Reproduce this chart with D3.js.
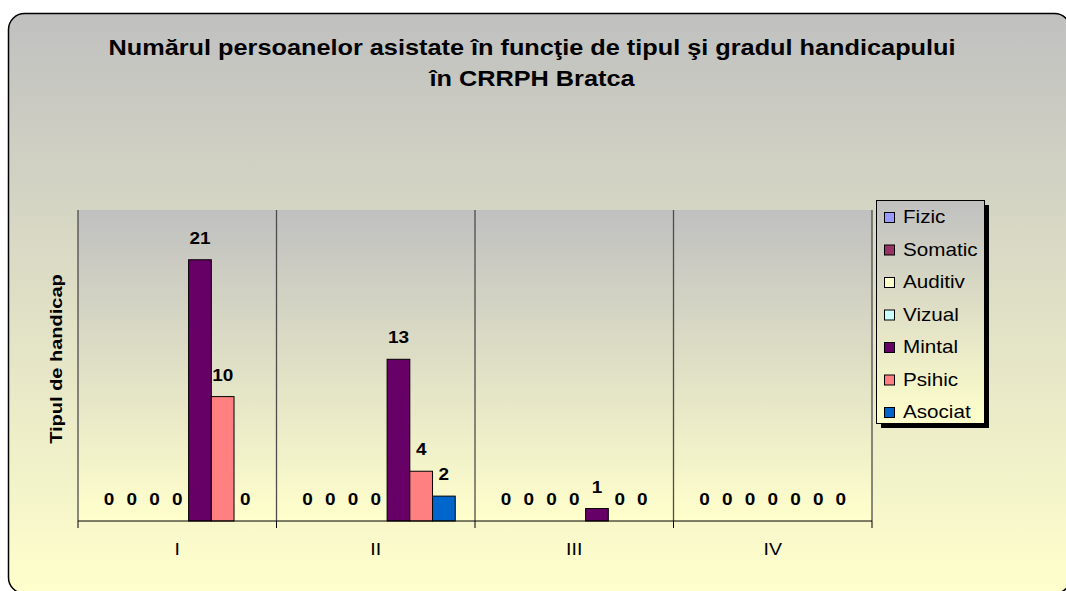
<!DOCTYPE html>
<html>
<head>
<meta charset="utf-8">
<script src="https://cdn.jsdelivr.net/npm/d3@7"></script>
<style>
  html, body { margin: 0; padding: 0; background: #fff; }
  svg { display: block; font-family: Arial, "Liberation Sans", sans-serif; }
</style>
</head>
<body>
<div id="wrapper"></div>
<script>
const categories = ['I', 'II', 'III', 'IV']
const seriesNames = ['Fizic', 'Somatic', 'Auditiv', 'Vizual', 'Mintal', 'Psihic', 'Asociat']
const seriesColors = ['#9999ff', '#993366', '#ffffcc', '#ccffff', '#660066', '#ff8080', '#0066cc']
const fizic = [0, 0, 0, 0]
const somatic = [0, 0, 0, 0]
const auditiv = [0, 0, 0, 0]
const vizual = [0, 0, 0, 0]
const mintal = [21, 13, 1, 0]
const psihic = [10, 4, 0, 0]
const asociat = [0, 2, 0, 0]
const titleLines = ['Numărul persoanelor asistate în funcţie de tipul şi gradul handicapului', 'în CRRPH Bratca']
const yTitle = 'Tipul de handicap'

const seriesValues = [fizic, somatic, auditiv, vizual, mintal, psihic, asociat]
const dataset = []
categories.forEach((c, ci) => {
    seriesNames.forEach((s, si) => {
        dataset.push({ category: c, series: s, value: seriesValues[si][ci] })
    })
})

const dimensions = {
    width: 1066,
    height: 591,
    margin: { top: 210, right: 194, bottom: 70, left: 78 }
}
dimensions.boundedWidth = dimensions.width - dimensions.margin.left - dimensions.margin.right
dimensions.boundedHeight = dimensions.height - dimensions.margin.top - dimensions.margin.bottom

// the original text is drawn a bit wider than Arial, so stretch it along x
const stretch = 1.15

const wrapper = d3.select('#wrapper')
    .append('svg')
    .attr('width', dimensions.width)
    .attr('height', dimensions.height)

const defs = wrapper.append('defs')
const grad = (id) => {
    const g = defs.append('linearGradient').attr('id', id)
        .attr('x1', 0).attr('y1', 0).attr('x2', 0).attr('y2', 1)
    g.append('stop').attr('offset', '0%').attr('stop-color', '#c0c0c0')
    g.append('stop').attr('offset', '100%').attr('stop-color', '#ffffcc')
}
grad('bgGrad')
grad('plotGrad')
grad('legendGrad')

// chart area
wrapper.append('rect')
    .attr('x', 8.5).attr('y', 13.5)
    .attr('width', 1062).attr('height', 580)
    .attr('rx', 16)
    .attr('fill', 'url(#bgGrad)')
    .attr('stroke', '#000')
    .attr('stroke-width', 1.5)

// title
wrapper.append('g').selectAll('text')
    .data(titleLines)
    .enter()
    .append('text')
    .attr('transform', (d, i) => `translate(532,${55 + i * 31}) scale(${stretch},1)`)
    .attr('text-anchor', 'middle')
    .style('font-size', '22px')
    .style('font-weight', 'bold')
    .attr('fill', '#000')
    .text(d => d)

const bounds = wrapper.append('g')
    .attr('transform', `translate(${dimensions.margin.left},${dimensions.margin.top})`)

bounds.append('rect')
    .attr('width', dimensions.boundedWidth)
    .attr('height', dimensions.boundedHeight)
    .attr('fill', 'url(#plotGrad)')

const xScale = d3.scaleBand()
    .domain(categories)
    .range([0, dimensions.boundedWidth])

const xInner = d3.scaleBand()
    .domain(seriesNames)
    .range([0, xScale.bandwidth()])
    .paddingInner(0)
    .paddingOuter(0.87)

const yScale = d3.scaleLinear()
    .domain([0, 25])
    .range([dimensions.boundedHeight, 0])

const colorScale = d3.scaleOrdinal()
    .domain(seriesNames)
    .range(seriesColors)

// category separators
const edges = categories.map(c => xScale(c)).concat([dimensions.boundedWidth])
bounds.selectAll('.sep')
    .data(edges)
    .enter()
    .append('line')
    .attr('class', 'sep')
    .attr('x1', d => d).attr('x2', d => d)
    .attr('y1', 0).attr('y2', dimensions.boundedHeight)
    .attr('stroke', '#4d4d4d')
    .attr('stroke-width', 1.3)

// bars
bounds.selectAll('.bar')
    .data(dataset.filter(d => d.value > 0))
    .enter()
    .append('rect')
    .attr('class', 'bar')
    .attr('x', d => xScale(d.category) + xInner(d.series))
    .attr('y', d => yScale(d.value))
    .attr('width', xInner.bandwidth())
    .attr('height', d => dimensions.boundedHeight - yScale(d.value))
    .attr('fill', d => colorScale(d.series))
    .attr('stroke', '#000')
    .attr('stroke-width', 1)

// value labels
bounds.selectAll('.lbl')
    .data(dataset)
    .enter()
    .append('text')
    .attr('class', 'lbl')
    .attr('transform', d => `translate(${xScale(d.category) + xInner(d.series) + xInner.bandwidth() / 2},${yScale(d.value) - 16}) scale(${stretch},1)`)
    .attr('text-anchor', 'middle')
    .style('font-size', '16.5px')
    .style('font-weight', 'bold')
    .attr('fill', '#000')
    .text(d => d.value)

// x axis
const xAxis = bounds.append('g')
    .attr('transform', `translate(0,${dimensions.boundedHeight})`)
xAxis.append('line')
    .attr('x1', 0).attr('x2', dimensions.boundedWidth)
    .attr('stroke', '#000').attr('stroke-width', 1)
xAxis.selectAll('.tick')
    .data(edges)
    .enter()
    .append('line')
    .attr('x1', d => d).attr('x2', d => d)
    .attr('y1', 0).attr('y2', 7)
    .attr('stroke', '#000')
xAxis.selectAll('.xlbl')
    .data(categories)
    .enter()
    .append('text')
    .attr('transform', d => `translate(${xScale(d) + xScale.bandwidth() / 2},34) scale(${stretch},1)`)
    .attr('text-anchor', 'middle')
    .style('font-size', '17px')
    .attr('fill', '#000')
    .text(d => d)

// y axis title
bounds.append('text')
    .attr('transform', `translate(-16,149) rotate(-90) scale(1.25,1)`)
    .attr('text-anchor', 'middle')
    .style('font-size', '16px')
    .style('font-weight', 'bold')
    .attr('fill', '#000')
    .text(yTitle)

// legend
const legend = wrapper.append('g')
    .attr('transform', 'translate(876,200)')
legend.append('rect')
    .attr('x', 5).attr('y', 5)
    .attr('width', 108).attr('height', 223)
    .attr('fill', '#000')
legend.append('rect')
    .attr('x', 0.5).attr('y', 0.5)
    .attr('width', 108).attr('height', 223)
    .attr('fill', 'url(#legendGrad)')
    .attr('stroke', '#000')
    .attr('stroke-width', 1)
const items = legend.selectAll('.item')
    .data(seriesNames)
    .enter()
    .append('g')
    .attr('transform', (d, i) => `translate(8,${17 + i * 32.5})`)
items.append('rect')
    .attr('x', 0.5).attr('y', -4.5)
    .attr('width', 10).attr('height', 10)
    .attr('fill', d => colorScale(d))
    .attr('stroke', '#000')
    .attr('stroke-width', 1)
items.append('text')
    .attr('transform', `translate(19,6) scale(1.18,1)`)
    .style('font-size', '17.5px')
    .attr('fill', '#000')
    .text(d => d)
</script>
</body>
</html>
